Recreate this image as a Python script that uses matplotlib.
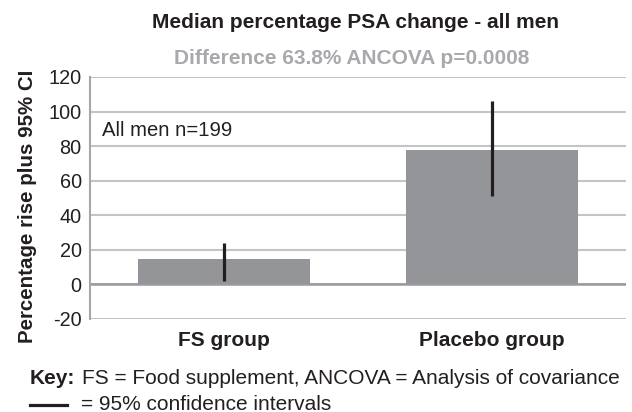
import matplotlib
matplotlib.use("Agg")
import matplotlib.pyplot as plt
from matplotlib.lines import Line2D
from matplotlib.ticker import FuncFormatter

plt.rcParams['font.family'] = ['Liberation Sans', 'DejaVu Sans']

categories = ["FS group", "Placebo group"]
medians = [14.5, 78.0]
ci_low = [2.0, 51.0]
ci_high = [24.0, 106.0]
yticks = [-20, 0, 20, 40, 60, 80, 100, 120]

W, H = 632, 412
fig = plt.figure(figsize=(W/100, H/100), dpi=100)
ax = fig.add_axes([90/W, 1-319/H, (626-90)/W, (319-77)/H])

x = list(range(len(categories)))
ax.set_ylim(-20, 120)
ax.set_xlim(-0.5, 1.5)
ax.set_yticks(yticks)
ax.yaxis.set_major_formatter(FuncFormatter(lambda v, p: "%d" % v))
ax.yaxis.grid(True, color='#c4c4c6', linewidth=1.5)
ax.set_axisbelow(True)
ax.bar(x, medians, width=0.645, color='#939598', zorder=2)
yerr = [[m - l for m, l in zip(medians, ci_low)], [h - m for m, h in zip(medians, ci_high)]]
ax.errorbar(x, medians, yerr=yerr, fmt='none', ecolor='#231f20', elinewidth=2.3, capsize=0, zorder=3)
ax.axhline(0, color='#9a9a9e', linewidth=1.8, zorder=2.5)

for s in ['top', 'right', 'bottom']:
    ax.spines[s].set_visible(False)
ax.spines['left'].set_color('#a7a7aa')
ax.spines['left'].set_linewidth(1.5)
ax.tick_params(axis='y', length=0, pad=6, labelsize=14.3, labelcolor='#231f20')
ax.tick_params(axis='x', length=0, pad=9, labelsize=15, labelcolor='#231f20')
ax.set_xticks(x)
ax.set_xticklabels(categories, fontweight='bold')
ax.set_ylabel("Percentage rise plus 95% CI", fontsize=14.8, fontweight='bold', color='#231f20')
ax.yaxis.set_label_coords(37/W, 0.5, transform=fig.transFigure)

fig.text(102/W, 1-131/H, "All men n=199", fontsize=14.6, color='#231f20', va='center')
fig.text(355/W, 1-22/H, "Median percentage PSA change - all men", fontsize=15, fontweight='bold',
         color='#231f20', ha='center', va='center')
fig.text(352/W, 1-58/H, "Difference 63.8% ANCOVA p=0.0008", fontsize=15, fontweight='bold',
         color='#a7a9ac', ha='center', va='center')

fig.text(30/W, 1-379/H, "Key:", fontsize=15, fontweight='bold', color='#231f20', va='center')
fig.text(82/W, 1-379/H, "FS = Food supplement, ANCOVA = Analysis of covariance", fontsize=15,
         color='#231f20', va='center')
fig.add_artist(Line2D([30/W, 67/W], [1-405/H, 1-405/H], color='#231f20', linewidth=2.3))
fig.text(81/W, 1-404/H, "= 95% confidence intervals", fontsize=15, color='#231f20', va='center')

fig.savefig("out.png", dpi=100)
